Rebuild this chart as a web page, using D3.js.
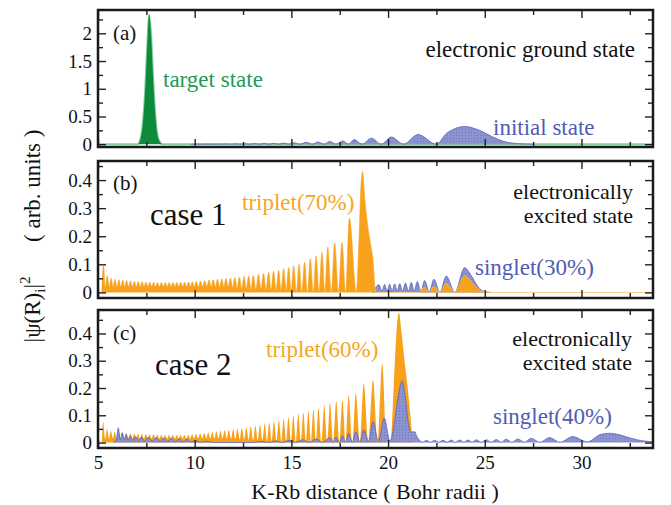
<!DOCTYPE html>
<html>
<head>
<meta charset="utf-8">
<script src="https://cdn.jsdelivr.net/npm/d3@7"></script>
<style>
  body { margin: 0; background: #fff; }
  text { font-family: "Liberation Serif", "Times New Roman", serif; }
</style>
</head>
<body>
<div id="chart"></div>
<script>
    // tick labels
    var xTicks = [5, 10, 15, 20, 25, 30]
    var yTicksA = [0, 0.5, 1, 1.5, 2]
    var yTicksBC = [0, 0.1, 0.2, 0.3, 0.4]

    // (a) electronic ground state, [R, |psi|^2]
    var targetA = [[5,0],[7.05,0],[7.2,0.1],[7.35,0.5],[7.45,1.05],[7.55,1.8],[7.64,2.34],[7.75,1.95],[7.85,1.2],[7.95,0.6],[8.05,0.22],[8.2,0.04],[8.35,0],[33.7,0]]
    var initialA = [[9.8,0],[10.1,0.003],[10.35,0],[10.6,0.004],[10.85,0],[11.1,0.005],[11.35,0],[11.6,0.006],[11.85,0],[12.1,0.007],[12.35,0],[12.6,0.009],[12.85,0],[13.1,0.011],[13.35,0],[13.6,0.013],[13.85,0],[14.1,0.016],[14.35,0],[14.6,0.02],[14.85,0],[15.09,0.028],[15.43,0],[15.78,0.035],[16.08,0],[16.38,0.04],[16.68,0],[16.98,0.05],[17.32,0],[17.67,0.06],[17.96,0],[18.25,0.085],[18.65,0],[19.14,0.11],[19.65,0],[20.17,0.13],[20.8,0],[21.55,0.175],[22.5,0],[23.0,0.19],[23.44,0.28],[23.96,0.32],[24.73,0.25],[25.42,0.13],[26.1,0.04],[26.8,0.01],[27.5,0]]

    // (b) case 1
    var tripletB = [[5.2,0],[5.28,0.095],[5.38,0.02],[5.48,0.06],[5.58,0.02],[5.68,0.05],[5.78,0.02],[5.88,0.047],[5.98,0.02],[6.08,0.045],[6.18,0.02],[6.28,0.043],[6.38,0.02],[6.48,0.042],[6.58,0.02],[6.68,0.041],[6.78,0.02],[6.88,0.04],[6.98,0.02],[7.08,0.039],[7.18,0.02],[7.28,0.038],[7.38,0.02],[7.48,0.037],[7.58,0.02],[7.68,0.036],[7.78,0.02],[7.88,0.036],[7.98,0.02],[8.08,0.035],[8.18,0.02],[8.28,0.035],[8.38,0.02],[8.48,0.035],[8.58,0.02],[8.68,0.035],[8.78,0.02],[8.88,0.035],[8.98,0.02],[9.08,0.035],[9.18,0.02],[9.28,0.036],[9.38,0.02],[9.48,0.036],[9.58,0.02],[9.68,0.037],[9.78,0.02],[9.88,0.038],[9.98,0.02],[10.08,0.039],[10.19,0.02],[10.3,0.04],[10.41,0.02],[10.52,0.042],[10.63,0.02],[10.74,0.044],[10.85,0.02],[10.96,0.045],[11.07,0.02],[11.18,0.047],[11.29,0.02],[11.4,0.048],[11.51,0.02],[11.62,0.05],[11.73,0.02],[11.85,0.051],[11.96,0.018],[12.08,0.053],[12.19,0.015],[12.31,0.055],[12.43,0.014],[12.55,0.057],[12.67,0.013],[12.79,0.059],[12.91,0.012],[13.03,0.061],[13.16,0.011],[13.3,0.064],[13.43,0.01],[13.56,0.067],[13.69,0.009],[13.82,0.071],[13.95,0.008],[14.08,0.075],[14.21,0.007],[14.34,0.079],[14.47,0.006],[14.6,0.084],[14.73,0.005],[14.86,0.089],[14.99,0.004],[15.12,0.095],[15.26,0.003],[15.4,0.1],[15.54,0.002],[15.68,0.108],[15.83,0],[15.98,0.12],[16.13,0],[16.28,0.13],[16.43,0],[16.58,0.142],[16.73,0],[16.88,0.162],[17.06,0],[17.24,0.176],[17.43,0],[17.62,0.178],[17.8,0],[18.0,0.264],[18.36,0],[18.5,0.2],[18.6,0.38],[18.68,0.43],[18.8,0.33],[18.95,0.236],[19.1,0.17],[19.22,0.116],[19.36,0],[21.6,0],[21.89,0.018],[22.13,0],[22.37,0.022],[22.68,0],[23.01,0.032],[23.45,0],[23.96,0.058],[24.4,0.03],[24.9,0.003],[25.3,0],[33.7,0]]
    var singletB = [[19.2,0],[19.53,0.027],[19.68,0.004],[19.82,0.028],[19.95,0.004],[20.08,0.029],[20.21,0.004],[20.34,0.03],[20.47,0.004],[20.6,0.031],[20.75,0.004],[20.9,0.033],[21.05,0.004],[21.2,0.035],[21.35,0.004],[21.51,0.038],[21.7,0.003],[21.89,0.042],[22.13,0.002],[22.37,0.047],[22.68,0],[23.01,0.058],[23.45,0],[23.96,0.088],[24.3,0.06],[24.6,0.025],[24.9,0.005],[25.3,0]]

    // (c) case 2
    var tripletC = [[5.2,0],[5.27,0.076],[5.37,0.015],[5.47,0.05],[5.57,0.015],[5.67,0.043],[5.77,0.015],[5.87,0.04],[5.97,0.015],[6.07,0.038],[6.17,0.015],[6.27,0.036],[6.37,0.015],[6.47,0.035],[6.57,0.015],[6.67,0.034],[6.77,0.015],[6.87,0.033],[6.97,0.015],[7.07,0.032],[7.17,0.015],[7.27,0.031],[7.37,0.015],[7.47,0.031],[7.57,0.015],[7.67,0.03],[7.77,0.015],[7.87,0.03],[7.97,0.015],[8.07,0.029],[8.17,0.015],[8.27,0.029],[8.37,0.015],[8.47,0.028],[8.57,0.015],[8.67,0.028],[8.77,0.015],[8.87,0.028],[8.97,0.015],[9.07,0.028],[9.17,0.015],[9.27,0.028],[9.37,0.015],[9.47,0.028],[9.57,0.015],[9.67,0.029],[9.77,0.015],[9.87,0.03],[9.97,0.015],[10.07,0.031],[10.18,0.015],[10.28,0.033],[10.39,0.015],[10.49,0.035],[10.6,0.015],[10.7,0.037],[10.81,0.015],[10.91,0.039],[11.02,0.015],[11.12,0.041],[11.23,0.015],[11.33,0.043],[11.44,0.015],[11.55,0.045],[11.66,0.015],[11.77,0.047],[11.88,0.014],[11.99,0.049],[12.1,0.013],[12.21,0.051],[12.33,0.012],[12.44,0.053],[12.56,0.011],[12.67,0.056],[12.79,0.01],[12.9,0.059],[13.02,0.009],[13.14,0.062],[13.26,0.008],[13.38,0.065],[13.5,0.007],[13.62,0.069],[13.74,0.006],[13.86,0.073],[13.98,0.005],[14.1,0.077],[14.23,0.004],[14.35,0.082],[14.48,0.003],[14.6,0.087],[14.73,0.002],[14.85,0.093],[14.98,0.001],[15.1,0.099],[15.23,0],[15.36,0.105],[15.49,0],[15.62,0.11],[15.75,0],[15.88,0.115],[16.01,0],[16.14,0.12],[16.27,0],[16.4,0.127],[16.55,0],[16.7,0.137],[16.85,0],[17.0,0.145],[17.16,0],[17.32,0.152],[17.48,0],[17.64,0.156],[17.8,0],[17.96,0.174],[18.15,0],[18.33,0.18],[18.54,0],[18.74,0.217],[18.98,0],[19.22,0.229],[19.46,0],[19.7,0.29],[19.92,0],[20.12,0],[20.3,0.22],[20.45,0.42],[20.56,0.476],[20.7,0.4],[20.85,0.3],[21.0,0.21],[21.15,0.1],[21.32,0],[33.7,0]]
    var singletC = [[5.8,0],[5.95,0.01],[6.05,0.054],[6.15,0.01],[6.25,0.036],[6.35,0.008],[6.45,0.03],[6.55,0.008],[6.68,0.025],[6.8,0.006],[6.95,0.022],[7.1,0.006],[7.25,0.02],[7.4,0.005],[7.6,0.019],[7.8,0.005],[8.0,0.018],[8.2,0.004],[8.4,0.017],[8.6,0.004],[8.8,0.016],[9.0,0.003],[9.2,0.014],[9.4,0.003],[9.6,0.012],[9.8,0.002],[10.0,0.008],[10.3,0.001],[10.6,0.004],[11,0],[13,0],[13.5,0.004],[13.8,0],[14.2,0.006],[14.5,0],[14.9,0.008],[15.2,0],[15.6,0.01],[15.9,0],[16.3,0.013],[16.6,0],[17.0,0.018],[17.15,0],[17.3,0.02],[17.47,0],[17.64,0.026],[17.8,0],[17.96,0.034],[18.15,0],[18.33,0.04],[18.55,0.002],[18.74,0.046],[19.0,0.003],[19.22,0.076],[19.5,0.004],[19.8,0.09],[20.1,0.005],[20.3,0.06],[20.5,0.16],[20.73,0.226],[20.9,0.16],[21.05,0.07],[21.2,0.038],[21.37,0.04],[21.5,0.02],[21.63,0.008],[21.8,0.001],[21.98,0.008],[22.2,0.001],[22.4,0.008],[22.62,0.001],[22.84,0.008],[23.05,0.001],[23.27,0.009],[23.48,0.001],[23.7,0.009],[23.92,0.001],[24.13,0.009],[24.35,0.001],[24.56,0.01],[24.82,0.001],[25.08,0.01],[25.33,0.001],[25.59,0.011],[25.85,0.001],[26.11,0.012],[26.4,0.001],[26.71,0.013],[27.05,0.001],[27.4,0.015],[27.85,0.001],[28.35,0.018],[28.9,0.001],[29.55,0.022],[30.3,0.002],[31.0,0.03],[31.45,0.034],[32.0,0.028],[32.6,0.015],[33.2,0.006],[33.7,0.003]]

    var green = "#0e8a3c", orange = "#f8a21c", blue = "#8c93d1"
    var greenText = "#1f9a56", orangeText = "#f6a623", blueText = "#4f5cb3"

    var left = 98, right = 653
    var x = d3.scaleLinear().domain([5, 33.7]).range([left, right])

    var svg = d3.select("#chart").append("svg")
        .attr("width", 671)
        .attr("height", 505)

    var pat = svg.append("defs").append("pattern")
        .attr("id", "dots")
        .attr("width", 3).attr("height", 3)
        .attr("patternUnits", "userSpaceOnUse")
    pat.append("rect").attr("width", 3).attr("height", 3).attr("fill", blue)
    pat.append("rect").attr("width", 1).attr("height", 1).attr("fill", "#6d76c1")

    var panels = [
        {top: 10, bottom: 147, domain: [-0.05, 2.42], ticks: yTicksA, minor: d3.range(0.25, 2.3, 0.5),
         series: [
            {data: targetA, fill: green, line: "#86cfa0", lineWidth: 2},
            {data: initialA, fill: "url(#dots)", stroke: "#5a63b8"}
         ],
         labels: [
            {text: "(a)", x: 113, y: 40, size: 21},
            {text: "target state", x: 163, y: 87, size: 23, color: greenText},
            {text: "electronic ground state", x: 635, y: 57, size: 23, anchor: "end"},
            {text: "initial state", x: 493, y: 135, size: 23, color: blueText}
         ]},
        {top: 161, bottom: 298, domain: [-0.02, 0.468], ticks: yTicksBC, minor: d3.range(0.05, 0.46, 0.1),
         series: [
            {data: singletB, fill: "url(#dots)", stroke: "#5a63b8"},
            {data: tripletB, fill: orange, line: "#fbc97e", lineWidth: 1}
         ],
         labels: [
            {text: "(b)", x: 113, y: 190, size: 21},
            {text: "case 1", x: 150, y: 225, size: 31},
            {text: "triplet(70%)", x: 242, y: 210, size: 23, color: orangeText},
            {text: "electronically", x: 633, y: 199, size: 22, anchor: "end"},
            {text: "excited state", x: 633, y: 223, size: 22, anchor: "end"},
            {text: "singlet(30%)", x: 475, y: 275, size: 23, color: blueText}
         ]},
        {top: 310, bottom: 448, domain: [-0.02, 0.486], ticks: yTicksBC, minor: d3.range(0.05, 0.46, 0.1),
         series: [
            {data: tripletC, fill: orange},
            {data: singletC, fill: "url(#dots)", stroke: "#5a63b8"}
         ],
         labels: [
            {text: "(c)", x: 113, y: 340, size: 21},
            {text: "case 2", x: 155, y: 375, size: 31},
            {text: "triplet(60%)", x: 266, y: 357, size: 23, color: orangeText},
            {text: "electronically", x: 632, y: 346, size: 22, anchor: "end"},
            {text: "excited state", x: 632, y: 370, size: 22, anchor: "end"},
            {text: "singlet(40%)", x: 493, y: 424, size: 23, color: blueText}
         ]}
    ]

    function styleAxis(a) {
        a.select(".domain").remove()
        a.attr("font-family", null).attr("font-size", null)
        a.selectAll("line").attr("stroke", "#222").attr("stroke-width", 1.4)
        a.selectAll("text").attr("font-size", 19).attr("fill", "#111")
            .style("font-family", "'Liberation Serif', serif")
    }

    function drawPanel(p, i) {
        var y = d3.scaleLinear().domain(p.domain).range([p.bottom, p.top])
        var g = svg.append("g")

        g.append("clipPath").attr("id", "clip" + i)
            .append("rect")
            .attr("x", left).attr("y", p.top)
            .attr("width", right - left).attr("height", p.bottom - p.top)

        var plot = g.append("g").attr("clip-path", "url(#clip" + i + ")")
        var area = d3.area().x(d => x(d[0])).y0(y(0)).y1(d => y(d[1])).curve(d3.curveMonotoneX)
        var line = d3.line().x(d => x(d[0])).y(d => y(d[1])).curve(d3.curveMonotoneX)

        p.series.forEach(s => {
            if (s.line) {
                plot.append("path").datum(s.data).attr("d", line)
                    .attr("fill", "none").attr("stroke", s.line).attr("stroke-width", s.lineWidth)
            }
            plot.append("path").datum(s.data).attr("d", area).attr("fill", s.fill)
            if (s.stroke) {
                plot.append("path").datum(s.data).attr("d", line)
                    .attr("fill", "none").attr("stroke", s.stroke).attr("stroke-width", 0.8)
            }
        })

        var minorX = d3.range(7.5, 33.5, 5)
        g.append("g").attr("transform", `translate(0,${p.bottom})`)
            .call(d3.axisBottom(x).tickValues(xTicks).tickSize(-8).tickPadding(8)
                .tickFormat(i == 2 ? d => d : ""))
            .call(styleAxis)
        g.append("g").attr("transform", `translate(0,${p.bottom})`)
            .call(d3.axisBottom(x).tickValues(minorX).tickSize(-5).tickFormat(""))
            .call(styleAxis)
        g.append("g").attr("transform", `translate(0,${p.top})`)
            .call(d3.axisTop(x).tickValues(xTicks).tickSize(-8).tickFormat(""))
            .call(styleAxis)
        g.append("g").attr("transform", `translate(0,${p.top})`)
            .call(d3.axisTop(x).tickValues(minorX).tickSize(-5).tickFormat(""))
            .call(styleAxis)

        g.append("g").attr("transform", `translate(${left},0)`)
            .call(d3.axisLeft(y).tickValues(p.ticks).tickSize(-8).tickPadding(6).tickFormat(d => d))
            .call(styleAxis)
        g.append("g").attr("transform", `translate(${left},0)`)
            .call(d3.axisLeft(y).tickValues(p.minor).tickSize(-5).tickFormat(""))
            .call(styleAxis)
        g.append("g").attr("transform", `translate(${right},0)`)
            .call(d3.axisRight(y).tickValues(p.ticks).tickSize(-8).tickFormat(""))
            .call(styleAxis)
        g.append("g").attr("transform", `translate(${right},0)`)
            .call(d3.axisRight(y).tickValues(p.minor).tickSize(-5).tickFormat(""))
            .call(styleAxis)

        g.append("rect")
            .attr("x", left).attr("y", p.top)
            .attr("width", right - left).attr("height", p.bottom - p.top)
            .attr("fill", "none").attr("stroke", "#1a1a1a").attr("stroke-width", 2.5)

        g.selectAll("text.label")
            .data(p.labels)
            .join("text")
                .attr("class", "label")
                .attr("x", d => d.x)
                .attr("y", d => d.y)
                .attr("font-size", d => d.size)
                .attr("fill", d => d.color || "#111")
                .attr("text-anchor", d => d.anchor || "start")
                .text(d => d.text)
    }

    panels.forEach(drawPanel)

    svg.append("text")
        .attr("x", 375).attr("y", 499)
        .attr("text-anchor", "middle")
        .attr("font-size", 22)
        .attr("fill", "#111")
        .text("K-Rb distance ( Bohr radii )")

    var yl = svg.append("text")
        .attr("transform", "translate(40,236) rotate(-90)")
        .attr("text-anchor", "middle")
        .attr("font-size", 23)
        .attr("fill", "#111")
    yl.append("tspan").text("|\u03c8(R)")
    yl.append("tspan").attr("dy", 5).attr("font-size", 15).text("i")
    yl.append("tspan").attr("dy", -5).text("|")
    yl.append("tspan").attr("dy", -10).attr("font-size", 15).text("2")
    yl.append("tspan").attr("dy", 10).text("\u00a0\u00a0\u00a0\u00a0\u00a0\u00a0( arb. units )")
</script>
</body>
</html>
